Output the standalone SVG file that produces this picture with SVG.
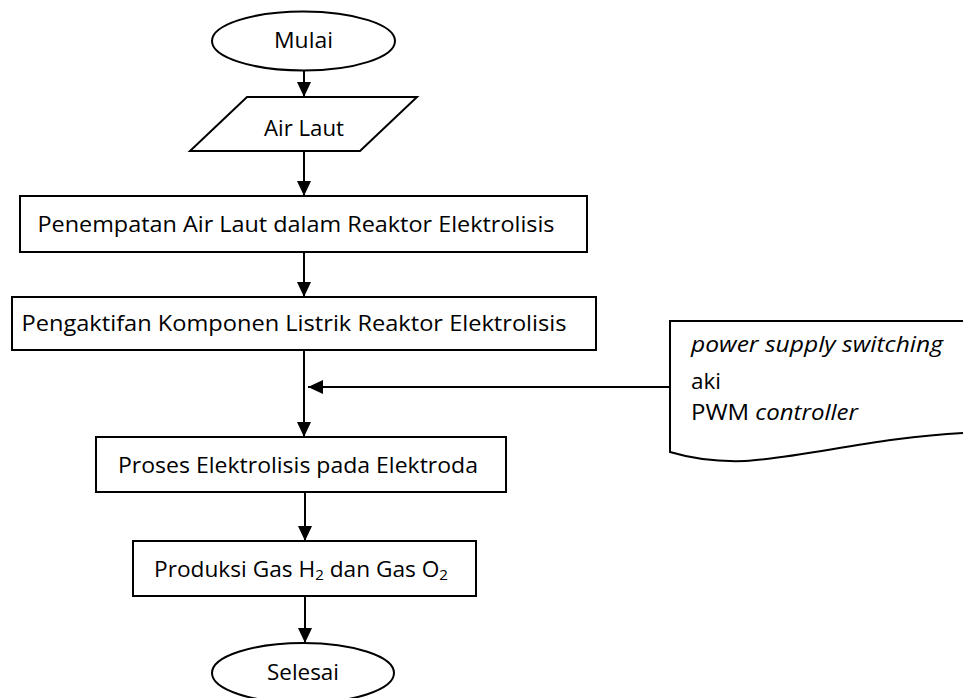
<svg xmlns="http://www.w3.org/2000/svg" width="963" height="698" viewBox="0 0 963 698">
<defs>
<style>
.s{fill:#fff;stroke:#000;stroke-width:2}
.t{font-family:"Open Sans","Noto Sans","DejaVu Sans",sans-serif;font-size:22.5px;fill:#000;text-anchor:middle}
.l{font-family:"Open Sans","Noto Sans","DejaVu Sans",sans-serif;font-size:22.5px;fill:#000}
.c{fill:none;stroke:#000;stroke-width:2;marker-end:url(#ah)}
</style>
<marker id="ah" markerUnits="userSpaceOnUse" markerWidth="16" markerHeight="14" refX="15" refY="7" orient="auto">
<path d="M0,0 L15,7 L0,14 Z" fill="#000"/>
</marker>
</defs>
<rect width="963" height="698" fill="#fff"/>
<g id="connectors">
<path class="c" d="M304,71 V97"/>
<path class="c" d="M304,152 V196"/>
<path class="c" d="M304,252 V297"/>
<path class="c" d="M304,350 V437"/>
<path class="c" d="M670,387 H308"/>
<path class="c" d="M305,492 V541"/>
<path class="c" d="M305,596 V643"/>
</g>
<g id="mulai">
<ellipse class="s" cx="303.5" cy="41" rx="91.5" ry="29.5"/>
<text class="t" x="303.5" y="48" textLength="59" lengthAdjust="spacingAndGlyphs">Mulai</text>
</g>
<g id="air-laut">
<polygon class="s" points="247,97 417,97 360,151 190,151"/>
<text class="t" x="304" y="136" textLength="80" lengthAdjust="spacingAndGlyphs">Air Laut</text>
</g>
<g id="penempatan">
<rect class="s" x="20" y="196" width="567" height="56"/>
<text class="t" x="296" y="232" textLength="517" lengthAdjust="spacingAndGlyphs">Penempatan Air Laut dalam Reaktor Elektrolisis</text>
</g>
<g id="pengaktifan">
<rect class="s" x="12" y="297" width="584" height="53"/>
<text class="t" x="294" y="331" textLength="545" lengthAdjust="spacingAndGlyphs">Pengaktifan Komponen Listrik Reaktor Elektrolisis</text>
</g>
<g id="sumber">
<path class="s" d="M963,321 H670 V452 C690,458 715,462 745,461 C800,458 880,437 963,433"/>
<text class="l" x="691" y="352" textLength="252" lengthAdjust="spacingAndGlyphs" font-style="italic">power supply switching</text>
<text class="l" x="691" y="389">aki</text>
<text class="l" x="691" y="420" textLength="167" lengthAdjust="spacingAndGlyphs">PWM <tspan font-style="italic">controller</tspan></text>
</g>
<g id="proses">
<rect class="s" x="96" y="437" width="410" height="55"/>
<text class="t" x="298" y="473" textLength="360" lengthAdjust="spacingAndGlyphs">Proses Elektrolisis pada Elektroda</text>
</g>
<g id="produksi">
<rect class="s" x="133" y="541" width="343" height="55"/>
<text class="t" x="301" y="577" textLength="294" lengthAdjust="spacingAndGlyphs">Produksi Gas H<tspan font-size="15" dy="3">2</tspan><tspan dy="-3"> dan Gas O</tspan><tspan font-size="15" dy="3">2</tspan></text>
</g>
<g id="selesai">
<ellipse class="s" cx="303" cy="673" rx="91" ry="30"/>
<text class="t" x="303" y="680" textLength="72" lengthAdjust="spacingAndGlyphs">Selesai</text>
</g>
</svg>
